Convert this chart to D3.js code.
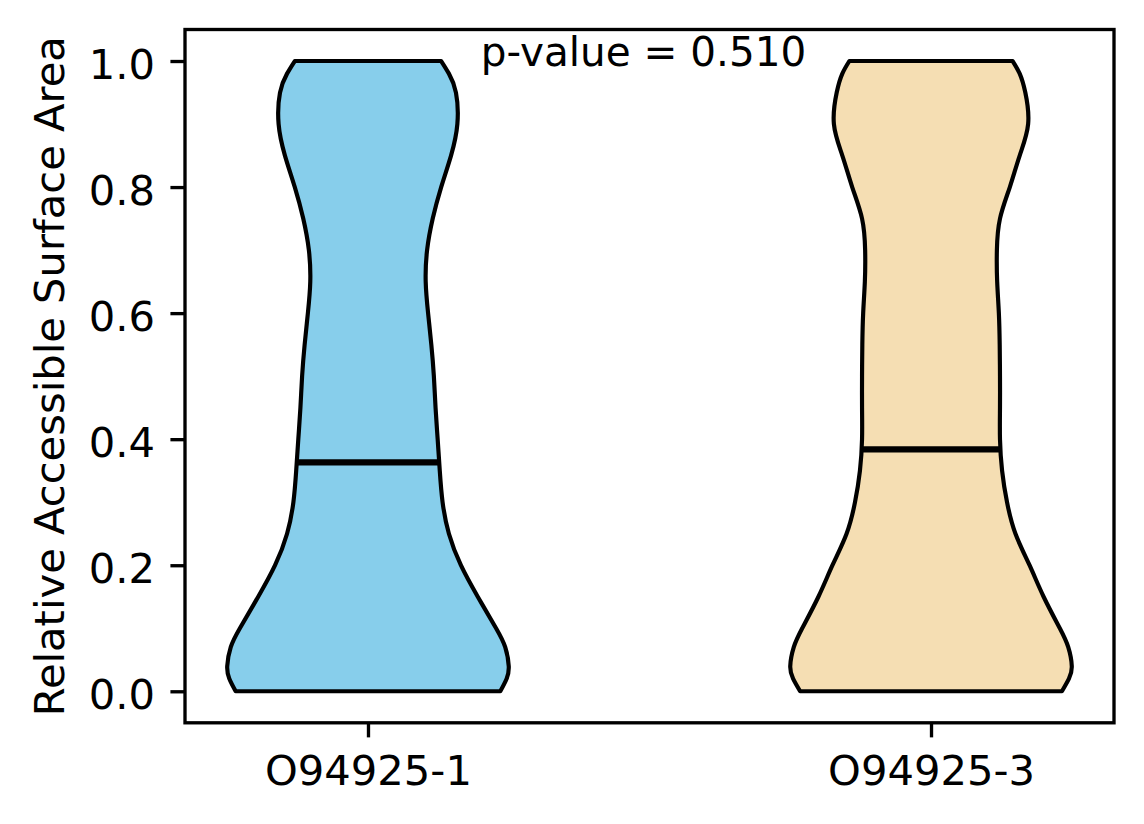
<!DOCTYPE html>
<meta charset="utf-8">
<script src="https://d3js.org/d3.v7.min.js"></script>
<style>
body { margin: 0; background: #fff; }
text { font-family: "DejaVu Sans", sans-serif; fill: #000; }
.tick line, .domain { stroke: #000; }
</style>
<div id="my_dataviz"></div>
<script>

// data
var categories = ["O94925-1", "O94925-3"];
var positions = [1, 2];
var colors = ["#87CEEB", "#F5DEB3"];
var medians = [0.363, 0.384];
var gridValues = [0, 0.02, 0.04, 0.07, 0.1, 0.15, 0.2, 0.25, 0.3, 0.35, 0.4, 0.45, 0.5,
  0.55, 0.6, 0.65, 0.7, 0.75, 0.8, 0.85, 0.9, 0.95, 0.98, 1.0];
// relative half-width of each violin (1 = widest point)
var densityLeft = [0.94, 0.985, 1.0, 0.975, 0.91, 0.78, 0.66, 0.575, 0.53, 0.51, 0.495, 0.48, 0.468,
  0.45, 0.427, 0.41, 0.42, 0.46, 0.52, 0.59, 0.635, 0.625, 0.575, 0.52];
var densityRight = [0.93, 0.98, 1.0, 0.975, 0.915, 0.80, 0.70, 0.60, 0.54, 0.505, 0.49, 0.49, 0.49,
  0.488, 0.482, 0.47, 0.468, 0.49, 0.56, 0.63, 0.69, 0.67, 0.63, 0.58];
var yTicks = [0, 0.2, 0.4, 0.6, 0.8, 1.0];
var pLabel = "p-value = 0.510";

var densities = [densityLeft, densityRight];
var violinWidth = 0.5;

var W = 1144, H = 824;
var margin = {top: 29.5, right: 30, bottom: 101.2, left: 185};
var width = W - margin.left - margin.right,
    height = H - margin.top - margin.bottom;

var fs = 41.67, lw = 3.33, tickLen = 14.58;

var svg = d3.select("#my_dataviz")
  .append("svg")
    .attr("width", W)
    .attr("height", H)
  .append("g")
    .attr("transform", "translate(" + margin.left + "," + margin.top + ")");

var x = d3.scaleLinear()
  .domain([0.675, 2.325])
  .range([0, width]);

var y = d3.scaleLinear()
  .domain([-0.05, 1.05])
  .range([height, 0]);

// violins
var area = d3.area()
  .curve(d3.curveNatural)
  .y(function(d) { return y(d.v); });

positions.forEach(function(pos, i) {
  var pts = gridValues.map(function(v, j) { return {v: v, d: densities[i][j]}; });
  area
    .x0(function(d) { return x(pos - d.d * violinWidth / 2); })
    .x1(function(d) { return x(pos + d.d * violinWidth / 2); });
  svg.append("path")
    .datum(pts)
    .attr("d", area)
    .attr("fill", colors[i])
    .attr("stroke", "#000")
    .attr("stroke-width", 4.17)
    .attr("stroke-linejoin", "round");
});

// median lines
svg.selectAll("line.median")
  .data(medians)
  .enter()
  .append("line")
    .attr("class", "median")
    .attr("x1", function(d, i) { return x(positions[i] - violinWidth / 4); })
    .attr("x2", function(d, i) { return x(positions[i] + violinWidth / 4); })
    .attr("y1", function(d) { return y(d); })
    .attr("y2", function(d) { return y(d); })
    .attr("stroke", "#000")
    .attr("stroke-width", 6.25);

// axes
var xAxis = svg.append("g")
  .attr("transform", "translate(0," + height + ")")
  .call(d3.axisBottom(x)
    .tickValues(positions)
    .tickFormat(function(d, i) { return categories[i]; })
    .tickSize(tickLen)
    .tickSizeOuter(0)
    .tickPadding(18));

var yAxis = svg.append("g")
  .call(d3.axisLeft(y)
    .tickValues(yTicks)
    .tickFormat(d3.format(".1f"))
    .tickSize(tickLen)
    .tickSizeOuter(0)
    .tickPadding(15.4));

[xAxis, yAxis].forEach(function(g) {
  g.selectAll(".tick line").attr("stroke-width", lw);
  g.selectAll("text").style("font-size", fs + "px").attr("font-family", null);
  g.select(".domain").remove();
});
yAxis.selectAll(".tick text").attr("dy", "0.41em");

// frame
svg.append("rect")
  .attr("x", 0)
  .attr("y", 0)
  .attr("width", width)
  .attr("height", height)
  .attr("fill", "none")
  .attr("stroke", "#000")
  .attr("stroke-width", lw);

// y label
svg.append("text")
  .attr("transform", "rotate(-90)")
  .attr("x", -height / 2)
  .attr("y", 64 - margin.left)
  .attr("text-anchor", "middle")
  .style("font-size", fs + "px")
  .text("Relative Accessible Surface Area");

// p-value
svg.append("text")
  .attr("x", x(1.5) - 6)
  .attr("y", 66 - margin.top)
  .attr("text-anchor", "middle")
  .style("font-size", "40.5px")
  .text(pLabel);

</script>
